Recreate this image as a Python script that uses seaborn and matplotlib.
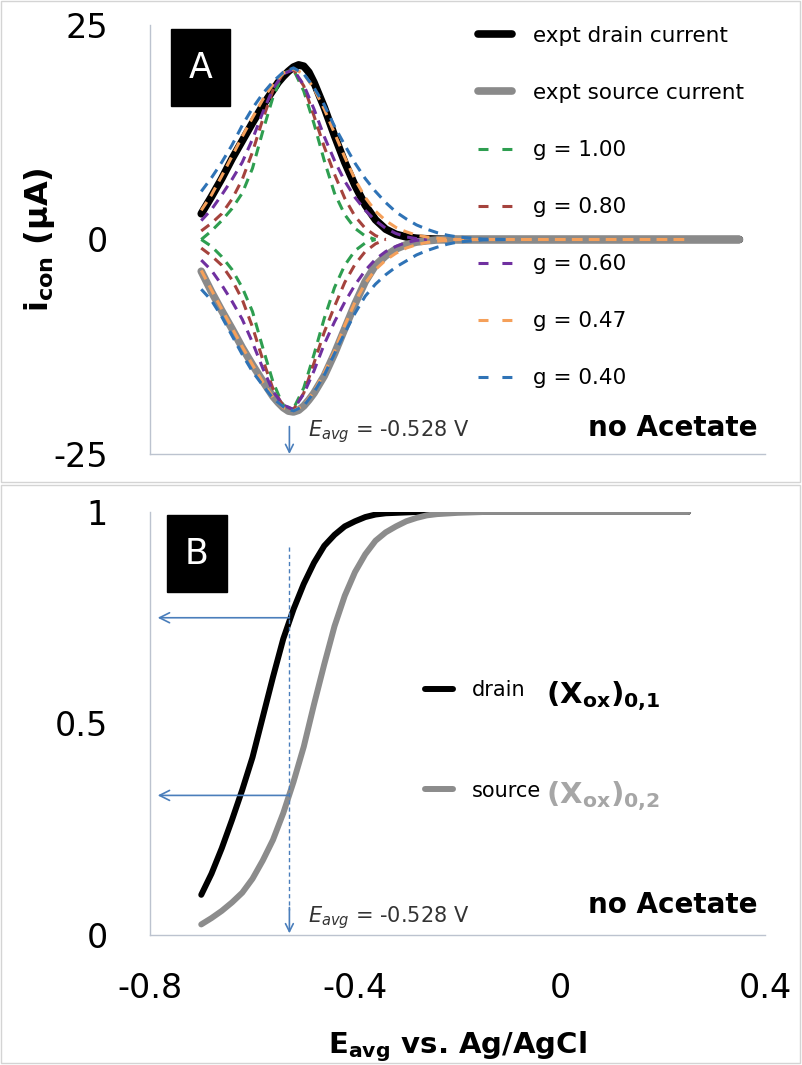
import matplotlib
matplotlib.use('Agg')
import matplotlib.pyplot as plt
from matplotlib.lines import Line2D
from matplotlib.patches import Rectangle
from matplotlib.ticker import MultipleLocator
import seaborn as sns

# ---- panel A: experimental currents (uA) vs E_avg (V)
expt_E = [-0.70, -0.68, -0.66, -0.64, -0.62, -0.60, -0.58, -0.56, -0.55, -0.54,
          -0.53, -0.52, -0.51, -0.50, -0.49, -0.48, -0.46, -0.44, -0.42, -0.40,
          -0.38, -0.36, -0.34, -0.32, -0.30, -0.28, -0.26, -0.24, -0.20, -0.10,
          0.00, 0.10, 0.20, 0.35]
drain_current = [3.0, 5.0, 7.1, 9.4, 11.5, 13.6, 15.6, 17.4, 18.3, 19.0,
                 19.6, 20.1, 20.35, 20.2, 19.5, 18.3, 15.4, 12.1, 9.0, 6.3,
                 4.0, 2.3, 1.2, 0.6, 0.3, 0.15, 0.08, 0.04, 0.0, 0.0,
                 0.0, 0.0, 0.0, 0.0]
source_current = [-3.7, -6.1, -8.3, -10.4, -12.6, -14.6, -16.5, -18.3, -19.0, -19.6,
                  -20.0, -20.1, -19.9, -19.4, -18.7, -17.9, -15.9, -13.3, -10.4, -7.5,
                  -4.9, -3.0, -1.9, -1.1, -0.6, -0.3, -0.15, -0.05, 0.0, 0.0,
                  0.0, 0.0, 0.0, 0.0]

# ---- panel A: simulated currents for several g (upper = drain, lower = source)
sim_E = [-0.70, -0.68, -0.66, -0.64, -0.62, -0.60, -0.58, -0.56, -0.54, -0.52,
         -0.50, -0.48, -0.46, -0.44, -0.42, -0.40, -0.38, -0.36, -0.34, -0.32,
         -0.30, -0.28, -0.26, -0.24, -0.22, -0.20, -0.15, -0.10, 0.00, 0.10, 0.25]
g_labels = ['g = 1.00', 'g = 0.80', 'g = 0.60', 'g = 0.47', 'g = 0.40']
g100_up = [0.0, 1.0, 2.2, 3.6, 5.4, 8.3, 12.6, 16.6, 19.4, 19.8,
           17.3, 13.5, 9.2, 5.4, 2.9, 1.3, 0.4, 0.0]
g100_down = [0.0, -0.8, -2.0, -3.5, -5.6, -8.4, -12.6, -16.6, -19.4, -19.7,
             -17.3, -13.4, -9.2, -5.6, -3.0, -1.3, -0.4, 0.0]
g080_up = [1.0, 1.9, 3.0, 4.7, 7.0, 10.2, 14.0, 17.4, 19.4, 19.8,
           17.9, 14.4, 10.8, 7.6, 4.8, 2.7, 1.3, 0.45, 0.0]
g080_down = [-1.0, -1.9, -3.0, -4.7, -7.0, -10.2, -14.0, -17.4, -19.4, -19.8,
             -17.9, -14.4, -10.8, -7.8, -5.0, -2.9, -1.4, -0.5, 0.0]
g060_up = [2.2, 3.5, 5.2, 7.0, 9.0, 11.7, 14.8, 17.6, 19.3, 19.8,
           18.0, 15.2, 12.0, 9.2, 6.8, 4.9, 3.4, 2.2, 1.3, 0.7,
           0.3, 0.1, 0.0]
g060_down = [-2.4, -3.6, -5.3, -7.2, -9.3, -12.0, -15.0, -17.7, -19.3, -19.8,
             -18.0, -15.3, -12.2, -9.6, -7.3, -5.3, -3.6, -2.3, -1.4, -0.8,
             -0.35, -0.1, 0.0]
g047_up = [3.4, 5.2, 7.4, 9.7, 12.0, 14.2, 16.3, 18.1, 19.4, 19.9,
           19.3, 17.6, 15.2, 12.4, 9.6, 7.0, 4.9, 3.3, 2.2, 1.4,
           0.9, 0.5, 0.3, 0.15, 0.05, 0.0, 0.0, 0.0, 0.0, 0.0, 0.0]
g047_down = [-3.6, -5.9, -8.1, -10.3, -12.5, -14.6, -16.6, -18.4, -19.6, -20.0,
             -19.3, -17.7, -15.5, -13.0, -10.0, -7.3, -5.1, -3.5, -2.4, -1.6,
             -1.0, -0.6, -0.35, -0.2, -0.1, 0.0, 0.0, 0.0, 0.0, 0.0, 0.0]
g040_up = [5.6, 7.2, 9.0, 11.0, 13.3, 15.3, 17.0, 18.4, 19.5, 20.0,
           19.3, 17.7, 15.7, 13.2, 11.0, 8.9, 7.1, 5.6, 4.3, 3.2,
           2.4, 1.7, 1.2, 0.8, 0.5, 0.3, 0.05, 0.0]
g040_down = [-5.8, -7.1, -9.0, -11.2, -13.4, -15.4, -17.0, -18.5, -19.5, -20.0,
             -19.4, -17.8, -15.8, -13.3, -10.9, -8.6, -6.6, -5.2, -4.1, -3.2,
             -2.5, -1.8, -1.3, -0.9, -0.55, -0.3, -0.05, 0.0]

# ---- panel B: oxidised fraction vs E_avg
frac_E = [-0.70, -0.68, -0.66, -0.64, -0.62, -0.60, -0.58, -0.56, -0.54, -0.52,
          -0.50, -0.48, -0.46, -0.44, -0.42, -0.40, -0.38, -0.36, -0.34, -0.32,
          -0.30, -0.28, -0.26, -0.24, -0.20, -0.15, -0.10, 0.00, 0.10, 0.25]
xox_drain = [0.095, 0.145, 0.205, 0.272, 0.343, 0.420, 0.515, 0.610, 0.700, 0.770,
             0.830, 0.880, 0.920, 0.946, 0.966, 0.978, 0.988, 0.994, 0.997, 0.998,
             0.999, 1.0, 1.0, 1.0, 1.0, 1.0, 1.0, 1.0, 1.0, 1.0]
xox_source = [0.025, 0.040, 0.057, 0.077, 0.100, 0.133, 0.176, 0.225, 0.288, 0.362,
              0.445, 0.545, 0.640, 0.730, 0.802, 0.858, 0.900, 0.932, 0.952, 0.966,
              0.978, 0.986, 0.992, 0.995, 0.998, 1.0, 1.0, 1.0, 1.0, 1.0]

e_avg = -0.528
xox_drain_at_eavg = 0.75
xox_source_at_eavg = 0.33

x_ticks = [-0.8, -0.4, 0, 0.4]
x_ticklabels = ['-0.8', '-0.4', '0', '0.4']
a_yticks = [-25, 0, 25]
a_yticklabels = ['-25', '0', '25']
b_yticks = [0, 0.5, 1]
b_yticklabels = ['0', '0.5', '1']

sns.set_style('white')
plt.rcParams['font.family'] = ['DejaVu Sans']
plt.rcParams['text.color'] = 'black'
plt.rcParams['axes.labelcolor'] = 'black'
plt.rcParams['axes.unicode_minus'] = False
plt.rcParams['lines.scale_dashes'] = False
plt.rcParams['mathtext.fontset'] = 'dejavusans'

W, H = 802, 1065
def fx(px):
    return px / W
def fy(py):
    return 1 - py / H

spine_c = '#bcc3cf'
arrow_c = '#4a7ebb'
sim_colors = ['#2e9e50', '#a5433d', '#7030a0', '#f5a05a', '#2f73b6']
sim_dash = (0, (7.2, 5.0))

fig = plt.figure(figsize=(8.02, 10.65), dpi=100)

# panel frames
fig.add_artist(Rectangle((fx(1), fy(482)), fx(800) - fx(1), fy(1) - fy(482),
                         transform=fig.transFigure, fill=False, ec='#d4d4d4', lw=1))
fig.add_artist(Rectangle((fx(1), fy(1063)), fx(800) - fx(1), fy(485) - fy(1063),
                         transform=fig.transFigure, fill=False, ec='#d4d4d4', lw=1))

ax1 = fig.add_axes([fx(150), fy(454), fx(765) - fx(150), fy(25) - fy(454)])
ax2 = fig.add_axes([fx(150), fy(935), fx(765) - fx(150), fy(512) - fy(935)])

# ---- panel A
sns.lineplot(x=expt_E, y=drain_current, ax=ax1, color='black', lw=5.5,
             estimator=None, sort=False, solid_capstyle='round')
sns.lineplot(x=expt_E, y=source_current, ax=ax1, color='#8a8a8a', lw=5.5,
             estimator=None, sort=False, solid_capstyle='round')
sims = [(g100_up, g100_down), (g080_up, g080_down), (g060_up, g060_down),
        (g047_up, g047_down), (g040_up, g040_down)]
for (up, down), col in zip(sims, sim_colors):
    for vals in (up, down):
        sns.lineplot(x=sim_E[:len(vals)], y=vals, ax=ax1, color=col, lw=2.2,
                     linestyle=sim_dash, estimator=None, sort=False)

ax1.set_xlim(-0.8, 0.4)
ax1.set_ylim(-25, 25)
ax1.set_xticks(x_ticks)
ax1.set_yticks(a_yticks, labels=a_yticklabels)
ax1.xaxis.set_minor_locator(MultipleLocator(0.1))
ax1.yaxis.set_minor_locator(MultipleLocator(5))
ax1.tick_params(axis='x', labelbottom=False)
ax1.set_xlabel('')
ax1.set_ylabel(r'$\mathbf{i_{con}}$ (µA)', fontsize=23, fontweight='bold')
ax1.yaxis.set_label_coords(-0.152, 0.5)

handles = [Line2D([], [], color='black', lw=5.5, solid_capstyle='round'),
           Line2D([], [], color='#8a8a8a', lw=5.5, solid_capstyle='round')]
for col in sim_colors:
    handles.append(Line2D([], [], color=col, lw=2.2, linestyle=(0, (7.2, 10.0))))
labels = ['expt drain current', 'expt source current'] + g_labels
ax1.legend(handles, labels, loc='upper left', bbox_to_anchor=(fx(478), fy(26)),
           bbox_transform=fig.transFigure, frameon=False, fontsize=15.5,
           labelspacing=1.72, handlelength=1.58, handletextpad=0.97,
           borderpad=0, borderaxespad=0)

ax1.annotate('', xy=(e_avg, -25), xytext=(e_avg, -21.8),
             arrowprops=dict(arrowstyle='->', color=arrow_c, lw=1.2,
                             shrinkA=0, shrinkB=0, mutation_scale=14))
fig.text(fx(308), fy(436), r'$E_{avg}$ = -0.528 V', fontsize=15, color='#333333')
fig.text(fx(758), fy(436), 'no Acetate', fontsize=20, fontweight='bold', ha='right')

# ---- panel B
sns.lineplot(x=frac_E, y=xox_drain, ax=ax2, color='black', lw=4.3,
             estimator=None, sort=False, solid_capstyle='round')
sns.lineplot(x=frac_E, y=xox_source, ax=ax2, color='#8c8c8c', lw=4.3,
             estimator=None, sort=False, solid_capstyle='round')

ax2.set_xlim(-0.8, 0.4)
ax2.set_ylim(0, 1)
ax2.set_xticks(x_ticks, labels=x_ticklabels)
ax2.set_yticks(b_yticks, labels=b_yticklabels)
ax2.xaxis.set_minor_locator(MultipleLocator(0.1))
ax2.yaxis.set_minor_locator(MultipleLocator(0.1))
ax2.set_ylabel('')
ax2.set_xlabel(r'$\mathbf{E_{avg}}$ vs. Ag/AgCl', fontsize=21, fontweight='bold')
ax2.xaxis.set_label_coords(0.5, -0.224)

ax2.plot([e_avg, e_avg], [0.917, 0.06], color=arrow_c, lw=1, linestyle=(0, (3, 2.2)))
ax2.annotate('', xy=(e_avg, 0.004), xytext=(e_avg, 0.065),
             arrowprops=dict(arrowstyle='->', color=arrow_c, lw=1.2,
                             shrinkA=0, shrinkB=0, mutation_scale=14))
for yv in (xox_drain_at_eavg, xox_source_at_eavg):
    ax2.annotate('', xy=(-0.785, yv), xytext=(e_avg, yv),
                 arrowprops=dict(arrowstyle='->', color=arrow_c, lw=1.2,
                                 shrinkA=0, shrinkB=0, mutation_scale=18))

b_handles = [Line2D([], [], color='black', lw=4.3, solid_capstyle='round'),
             Line2D([], [], color='#8c8c8c', lw=4.3, solid_capstyle='round')]
ax2.legend(b_handles, ['drain', 'source'], loc='upper left',
           bbox_to_anchor=(fx(425), fy(680)), bbox_transform=fig.transFigure,
           frameon=False, fontsize=15, labelspacing=3.87, handlelength=1.34,
           handletextpad=0.91, borderpad=0, borderaxespad=0)
fig.text(fx(546), fy(703), r'$\mathbf{(X_{ox})_{0{,}1}}$', fontsize=21, color='black')
fig.text(fx(546), fy(803), r'$\mathbf{(X_{ox})_{0{,}2}}$', fontsize=21, color='#a6a6a6')

fig.text(fx(308), fy(922), r'$E_{avg}$ = -0.528 V', fontsize=15, color='#333333')
fig.text(fx(758), fy(913), 'no Acetate', fontsize=20, fontweight='bold', ha='right')

# panel labels
for (x0, y0, x1, y1), letter in [((171, 29, 230, 106), 'A'), ((167, 515, 227, 592), 'B')]:
    fig.add_artist(Rectangle((fx(x0), fy(y1)), fx(x1) - fx(x0), fy(y0) - fy(y1),
                             transform=fig.transFigure, color='black'))
    fig.text(fx((x0 + x1) / 2), fy((y0 + y1) / 2), letter, color='white',
             fontsize=25, ha='center', va='center')

# axis styling
for ax in (ax1, ax2):
    for side in ('top', 'right'):
        ax.spines[side].set_visible(False)
    for side in ('left', 'bottom'):
        ax.spines[side].set_color(spine_c)
        ax.spines[side].set_linewidth(1)
    ax.tick_params(which='major', direction='out', length=9.4, width=1,
                   color=spine_c, labelsize=24, labelcolor='black')
    ax.tick_params(which='minor', direction='in', length=7, width=1, color=spine_c)
    ax.tick_params(axis='y', which='major', pad=21)
    ax.tick_params(axis='x', which='major', pad=17)

fig.savefig('out.png', dpi=100)
